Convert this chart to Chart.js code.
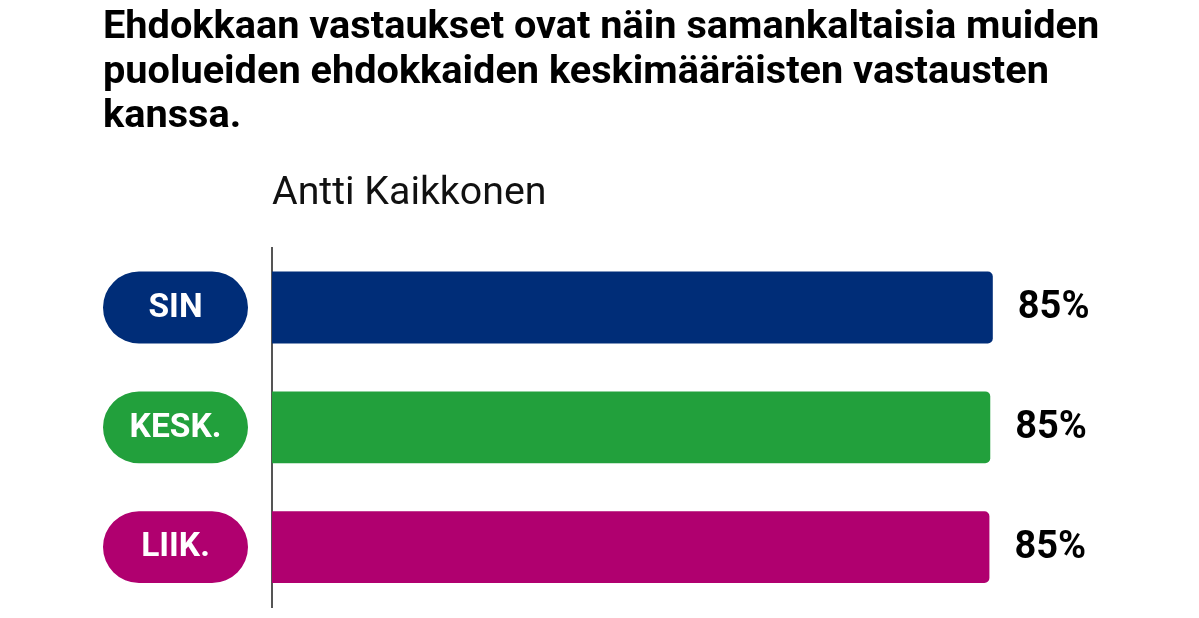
<!DOCTYPE html>
<html>
<head>
<meta charset="utf-8">
<script src="https://cdn.jsdelivr.net/npm/chart.js@4"></script>
<style>
  html, body { margin: 0; padding: 0; background: #ffffff; }
  #wrap { position: relative; width: 1199px; height: 618px; }
</style>
</head>
<body>
<div id="wrap"><canvas id="c" width="1199" height="618"></canvas></div>
<script>
const titleLines = [
  "Ehdokkaan vastaukset ovat näin samankaltaisia muiden",
  "puolueiden ehdokkaiden keskimääräisten vastausten",
  "kanssa."
];
const subtitle = "Antti Kaikkonen";
const categories = ["SIN", "KESK.", "LIIK."];
const values = [85.0, 84.7, 84.6];
const colors = ["#002D78", "#22A03C", "#B0006F"];
const axisMax = 100;

const FONT = "Roboto, 'Noto Sans', sans-serif";

const decorPlugin = {
  id: 'decor',
  afterDatasetsDraw(chart) {
    const ctx = chart.ctx;
    const meta = chart.getDatasetMeta(0);
    const yScale = chart.scales.y;
    ctx.save();
    meta.data.forEach((bar, i) => {
      const h = bar.height;
      const cy = bar.y;
      // pill label
      const x0 = yScale.left;
      const x1 = yScale.right - 24;
      const r = h / 2;
      ctx.beginPath();
      ctx.moveTo(x0 + r, cy - r);
      ctx.lineTo(x1 - r, cy - r);
      ctx.arc(x1 - r, cy, r, -Math.PI / 2, Math.PI / 2);
      ctx.lineTo(x0 + r, cy + r);
      ctx.arc(x0 + r, cy, r, Math.PI / 2, Math.PI * 1.5);
      ctx.closePath();
      ctx.fillStyle = colors[i];
      ctx.fill();
      ctx.fillStyle = '#ffffff';
      ctx.font = "bold 33.5px " + FONT;
      ctx.textAlign = 'center';
      ctx.textBaseline = 'middle';
      ctx.fillText(chart.data.labels[i], (x0 + x1) / 2, cy + 1);
      // value label
      ctx.fillStyle = '#000000';
      ctx.font = "bold 38px " + FONT;
      ctx.textAlign = 'left';
      ctx.fillText(Math.round(values[i]) + '%', bar.x + 25, cy + 1);
    });
    ctx.restore();
  }
};

new Chart(document.getElementById('c'), {
  type: 'bar',
  data: {
    labels: categories,
    datasets: [{
      data: values,
      backgroundColor: colors,
      borderRadius: 5,
      borderSkipped: 'start',
      categoryPercentage: 0.6,
      barPercentage: 1.0
    }]
  },
  options: {
    indexAxis: 'y',
    responsive: false,
    animation: false,
    layout: { padding: { left: 103, right: 79, top: 0, bottom: 11 } },
    plugins: {
      legend: { display: false },
      tooltip: { enabled: false },
      title: {
        display: true,
        text: titleLines,
        align: 'start',
        color: '#000000',
        font: { family: FONT, size: 39.7, weight: 'bold', lineHeight: 44.5 / 39.7 },
        padding: { top: 6, bottom: 31 }
      }
    },
    scales: {
      x: {
        position: 'top',
        min: 0,
        max: axisMax,
        grid: { display: false, drawTicks: false },
        border: { display: false },
        ticks: { display: false },
        title: {
          display: true,
          text: subtitle,
          align: 'start',
          color: '#111111',
          font: { family: FONT, size: 39.3, weight: 'normal', lineHeight: 1.2 },
          padding: { top: 0, bottom: 30 }
        }
      },
      y: {
        grid: { display: false, drawTicks: false },
        border: { display: true, color: '#555555', width: 2 },
        ticks: { display: false },
        afterFit(scale) { scale.width = 169; }
      }
    }
  },
  plugins: [decorPlugin]
});
</script>
</body>
</html>
